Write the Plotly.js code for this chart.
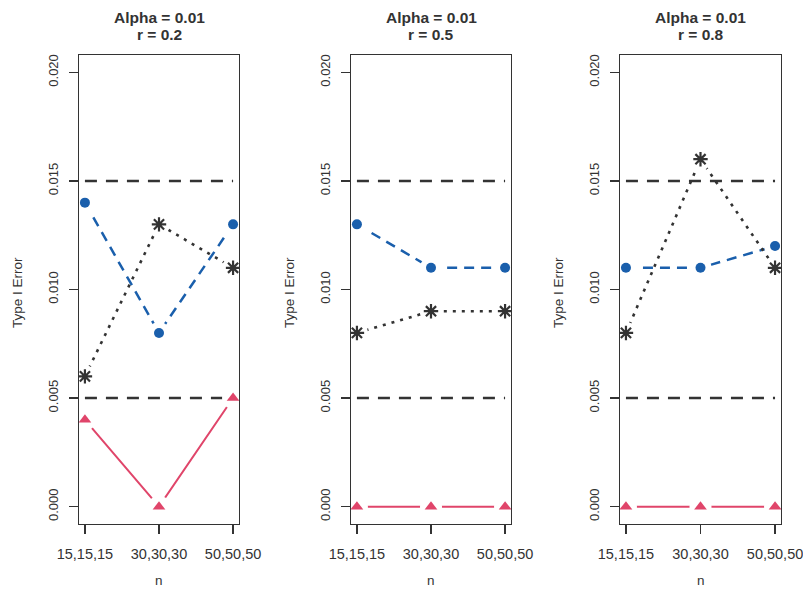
<!DOCTYPE html>
<html>
<head>
<meta charset="utf-8">
<script src="https://cdn.plot.ly/plotly-3.0.1.min.js"></script>
<style>
  html, body { margin: 0; padding: 0; background: #ffffff; }
  #chart { width: 803px; height: 591px; }
</style>
</head>
<body>
<div id="chart"></div>
<script>
// Sample sizes (group sizes) on the x axis
const nLabels = ['15,15,15', '30,30,30', '50,50,50'];
// Correlation of each panel and the nominal alpha
const panelR = ['0.2', '0.5', '0.8'];
const alphaLabel = '0.01';
// Type I error rates per panel (one row per panel)
const blueVals = [[0.014, 0.008, 0.013], [0.013, 0.011, 0.011], [0.011, 0.011, 0.012]];
const starVals = [[0.006, 0.013, 0.011], [0.008, 0.009, 0.009], [0.008, 0.016, 0.011]];
const triVals  = [[0.004, 0.000, 0.005], [0.000, 0.000, 0.000], [0.000, 0.000, 0.000]];
// Acceptance band limits
const bandLimits = [0.005, 0.015];
// Y axis ticks
const yTickVals = [0.000, 0.005, 0.010, 0.015, 0.020];
const yTickText = ['0.000', '0.005', '0.010', '0.015', '0.020'];

const W = 803, H = 591;
const frames = [[79, 239], [351, 511], [620, 781]];
const frameTop = 55, frameBottom = 524;
const ink = '#333333';
const blue = '#1a5fac';
const red = '#e0456a';
const font = 'Liberation Sans, Arial, sans-serif';

const traces = [];
const shapes = [];
const annotations = [];
const layout = {
  width: W, height: H,
  margin: {l: 0, r: 0, t: 0, b: 0},
  paper_bgcolor: '#ffffff', plot_bgcolor: '#ffffff',
  showlegend: false,
  font: {family: font, color: ink}
};

function addSeries(xa, ya, vals, color, dash, lineWidth, symbol, size, mlw) {
  // connecting line
  traces.push({x: nLabels, y: vals, xaxis: xa, yaxis: ya, mode: 'lines',
    line: {color: color, width: lineWidth, dash: dash}, hoverinfo: 'skip'});
  // white halo so the line stops short of each point (type "b" look)
  traces.push({x: nLabels, y: vals, xaxis: xa, yaxis: ya, mode: 'markers',
    marker: {color: '#ffffff', size: 22, symbol: 'circle'}, hoverinfo: 'skip'});
  traces.push({x: nLabels, y: vals, xaxis: xa, yaxis: ya, mode: 'markers',
    marker: {color: color, size: size, symbol: symbol,
             line: {color: color, width: mlw}}});
}

for (let p = 0; p < 3; p++) {
  const suffix = p === 0 ? '' : String(p + 1);
  const xa = 'x' + suffix, ya = 'y' + suffix;
  const [l, r] = frames[p];
  const common = {
    showline: true, mirror: true, linecolor: ink, linewidth: 1.2,
    ticks: 'outside', tickcolor: ink, ticklen: 9, tickwidth: 1.2,
    showgrid: false, zeroline: false, fixedrange: true
  };
  layout['xaxis' + suffix] = Object.assign({}, common, {
    domain: [l / W, r / W], anchor: ya, type: 'category',
    range: [-0.08, 2.08], tickvals: nLabels, ticktext: nLabels,
    tickfont: {family: font, size: 14.5, color: ink},
    ticklabelstandoff: 7
  });
  layout['yaxis' + suffix] = Object.assign({}, common, {
    domain: [(H - frameBottom) / H, (H - frameTop) / H], anchor: xa,
    range: [-0.0008, 0.0208], tickvals: yTickVals, ticktext: yTickText,
    tickangle: -90,
    tickfont: {family: font, size: 13, color: ink},
    ticklabelstandoff: 6
  });

  // band limits, drawn across the range of sample sizes
  bandLimits.forEach(v => shapes.push({
    type: 'line', xref: xa, yref: ya,
    x0: nLabels[0], x1: nLabels[nLabels.length - 1], y0: v, y1: v,
    line: {color: ink, width: 2.4, dash: '12px,9px'}, layer: 'below'
  }));

  addSeries(xa, ya, triVals[p], red, 'solid', 2, 'triangle-up', 11, 0);
  addSeries(xa, ya, blueVals[p], blue, '10px,7px', 2.5, 'circle', 10, 0);
  addSeries(xa, ya, starVals[p], ink, '3px,6px', 2.6, 'asterisk-open', 12, 2.2);

  const cx = (l + r) / 2 / W;
  annotations.push({text: '<b>Alpha = ' + alphaLabel + '</b>', xref: 'paper', yref: 'paper',
    x: cx, y: 1 - 17 / H, showarrow: false, xanchor: 'center', yanchor: 'middle',
    font: {family: font, size: 15.5, color: ink}});
  annotations.push({text: '<b>r = ' + panelR[p] + '</b>', xref: 'paper', yref: 'paper',
    x: cx, y: 1 - 35 / H, showarrow: false, xanchor: 'center', yanchor: 'middle',
    font: {family: font, size: 15.5, color: ink}});
  annotations.push({text: 'n', xref: 'paper', yref: 'paper',
    x: cx, y: 1 - 580 / H, showarrow: false, xanchor: 'center', yanchor: 'middle',
    font: {family: font, size: 13.5, color: ink}});
  annotations.push({text: 'Type I Error', xref: 'paper', yref: 'paper', textangle: -90,
    x: (l - 62) / W, y: 1 - 293 / H, showarrow: false,
    xanchor: 'center', yanchor: 'middle',
    font: {family: font, size: 13.5, color: ink}});
}

layout.shapes = shapes;
layout.annotations = annotations;

Plotly.newPlot('chart', traces, layout, {staticPlot: true, displayModeBar: false});
</script>
</body>
</html>
